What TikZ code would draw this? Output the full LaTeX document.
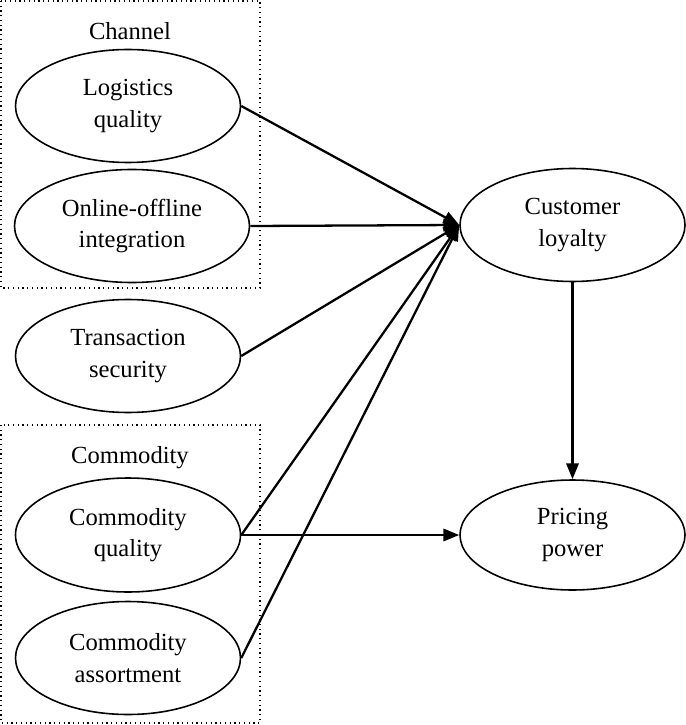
\documentclass[tikz,border=0pt]{standalone}
\usepackage{fontspec}
\setmainfont{Liberation Serif}
\usetikzlibrary{shapes.geometric,arrows.meta}
\tikzset{
  factor/.style={draw, ellipse, line width=0.9pt, inner sep=0pt, align=center,
    minimum width=4.5cm, minimum height=2.26cm, font=\fontsize{14}{18}\selectfont},
  grouplabel/.style={font=\fontsize{14}{18}\selectfont},
  groupbox/.style={draw, dotted, line width=0.7pt},
  effect/.style={draw, line width=1.3pt, -{Triangle[length=9pt,width=7pt]}}
}
\begin{document}
\begin{tikzpicture}
\useasboundingbox (0,0) rectangle (13.7,-14.5);
\draw[groupbox] (0.02,-0.02) rectangle (5.2,-5.76);
\draw[groupbox] (0.02,-8.5) rectangle (5.2,-14.46);
\node[grouplabel](chan) at (2.6, -0.62) {Channel};
\node[grouplabel](comm) at (2.6, -9.16) {Commodity};
\node[factor](lq) at (2.56, -2.12) {Logistics\\quality};
\node[factor, minimum width=4.7cm](ooi) at (2.64, -4.52) {Online-offline\\integration};
\node[factor](ts) at (2.56, -7.12) {Transaction\\security};
\node[factor, minimum height=2.28cm](cq) at (2.56, -10.7) {Commodity\\quality};
\node[factor](ca) at (2.56, -13.16) {Commodity\\assortment};
\node[factor](cl) at (11.45, -4.5) {Customer\\loyalty};
\node[factor, minimum height=2.2cm](pp) at (11.45, -10.7) {Pricing\\power};
\draw[effect] (lq.east) -- (cl.west);
\draw[effect] (ooi.east) -- (cl.west);
\draw[effect] (ts.east) -- (cl.west);
\draw[effect] (cq.east) -- (cl.west);
\draw[effect] (ca.east) -- (cl.west);
\draw[effect] (cq.east) -- (pp.west);
\draw[effect] (cl.south) -- (pp.north);
\end{tikzpicture}
\end{document}
